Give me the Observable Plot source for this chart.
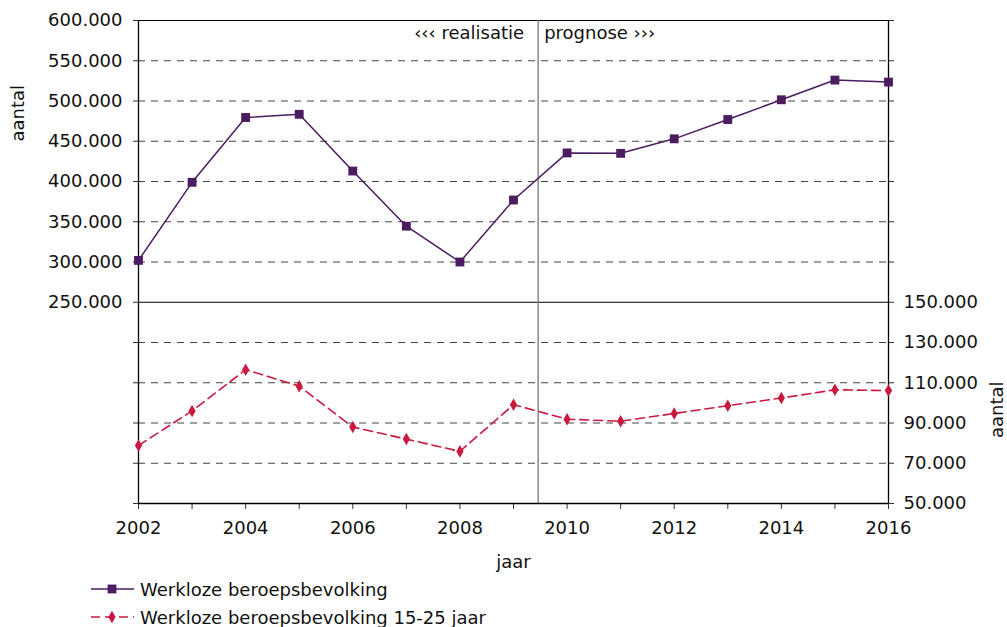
<!DOCTYPE html>
<html><head><meta charset="utf-8">
<script src="https://cdn.jsdelivr.net/npm/d3@7"></script>
<script src="https://cdn.jsdelivr.net/npm/@observablehq/plot@0.6"></script>
<style>
body{margin:0;background:#fff;font-family:"DejaVu Sans",Verdana,sans-serif;}
#legend{padding-left:90px;font-size:18px;color:#111;}
.row{height:28px;display:flex;align-items:center;}
.row svg{margin-right:4px;display:block}
</style></head><body>
<div id="chart"></div>
<div id="legend"></div>
<script>
// ---- data ----
const years = [2002, 2003, 2004, 2005, 2006, 2007, 2008, 2009, 2010, 2011, 2012, 2013, 2014, 2015, 2016];
const totaal = [302000, 399000, 479500, 483500, 413000, 344500, 300000, 377000, 435500, 435000, 453000, 477000, 501500, 526000, 523500];
const jongeren = [78800, 96000, 116500, 108300, 88000, 82000, 75900, 99100, 91900, 90900, 94700, 98600, 102400, 106500, 106100];
const leftTickValues = [250000, 300000, 350000, 400000, 450000, 500000, 550000, 600000];
const rightTickValues = [50000, 70000, 90000, 110000, 130000, 150000];
const seriesNames = ["Werkloze beroepsbevolking", "Werkloze beroepsbevolking 15-25 jaar"];
const splitYear = 2009.46;
const labels = {left: "‹‹‹ realisatie", right: "prognose ›››", y: "aantal", x: "jaar"};

// ---- helpers ----
const purple = "#4b1c5f", red = "#c8193f";
const fmt = d => d3.format(",")(d).replace(/,/g, ".");
// right axis (15-25 jaar) mapped onto the left scale: 50.000 -> 0, 150.000 -> 250.000
const toLeft = v => (v - 50000) * 2.5;
const fromLeft = p => p / 2.5 + 50000;
const allPositions = d3.range(0, 600001, 50000);
const rightPositions = rightTickValues.map(toLeft);

const dataA = years.map((y, i) => ({year: y, v: totaal[i]}));
const dataB = years.map((y, i) => ({year: y, v: toLeft(jongeren[i])}));
const dashedGrid = allPositions.filter(p => p > 0 && p < 600000 && p !== 250000);

const chart = Plot.plot({
  width: 1007, height: 575,
  marginLeft: 138, marginRight: 119, marginTop: 20, marginBottom: 72,
  style: {fontFamily: "DejaVu Sans, Verdana, sans-serif", fontSize: "18px", color: "#111", background: "#fff"},
  x: {domain: [years[0], years[years.length - 1]]},
  y: {domain: [0, 600000]},
  marks: [
    Plot.ruleY(dashedGrid, {stroke: "#444", strokeDasharray: "7,6", strokeWidth: 1}),
    Plot.ruleY([250000, 600000], {stroke: "#000", strokeWidth: 1.2}),
    Plot.ruleX([splitYear], {stroke: "#777", strokeWidth: 1.3}),
    Plot.axisY({anchor: "left", ticks: allPositions, tickSize: 5, tickPadding: 11, stroke: "#333",
      tickFormat: p => leftTickValues.includes(p) ? fmt(p) : "", label: null, fontSize: 18}),
    Plot.axisY({anchor: "right", ticks: allPositions, tickSize: 5, tickPadding: 10, stroke: "#333",
      tickFormat: p => rightPositions.includes(p) ? fmt(fromLeft(p)) : "", label: null, fontSize: 18}),
    Plot.axisX({ticks: years, tickSize: 6, tickPadding: 12, stroke: "#333",
      tickFormat: d => d % 2 === 0 ? String(d) : "", label: null, fontSize: 18}),
    Plot.ruleX([years[0], years[years.length - 1]], {stroke: "#000", strokeWidth: 1.3}),
    Plot.ruleY([0], {stroke: "#000", strokeWidth: 1.3}),
    Plot.text([labels.left], {x: () => splitYear, frameAnchor: "top", text: d => d, textAnchor: "end", dx: -14, dy: 13, lineAnchor: "middle", fill: "#111"}),
    Plot.text([labels.right], {x: () => splitYear, frameAnchor: "top", text: d => d, textAnchor: "start", dx: 6, dy: 13, lineAnchor: "middle", fill: "#111"}),
    Plot.text([labels.y], {frameAnchor: "top-left", text: d => d, rotate: -90, dx: -120, dy: 121, lineAnchor: "middle", fill: "#111"}),
    Plot.text([labels.y], {frameAnchor: "top-right", text: d => d, rotate: -90, dx: 109, dy: 361, lineAnchor: "middle", fill: "#111"}),
    Plot.text([labels.x], {frameAnchor: "bottom", text: d => d, dy: 59, lineAnchor: "middle", fill: "#111"}),
    Plot.line(dataB, {x: "year", y: "v", stroke: red, strokeWidth: 1.6, strokeDasharray: "9,5"}),
    Plot.dot(dataB, {x: "year", y: "v", symbol: "diamond", r: 3.8, fill: red, stroke: "none"}),
    Plot.line(dataA, {x: "year", y: "v", stroke: purple, strokeWidth: 1.5}),
    Plot.dot(dataA, {x: "year", y: "v", symbol: "square", r: 5, fill: purple, stroke: "none"})
  ]
});
document.getElementById("chart").appendChild(chart);

// ---- legend ----
const legend = d3.select("#legend");
const items = [
  {name: seriesNames[0], color: purple, dash: null, sym: d3.symbolSquare, size: 78},
  {name: seriesNames[1], color: red, dash: "9,5", sym: d3.symbolDiamond, size: 45}
];
items.forEach(it => {
  const row = legend.append("div").attr("class", "row");
  const s = row.append("svg").attr("width", 46).attr("height", 14);
  s.append("line").attr("x1", 1).attr("x2", 44).attr("y1", 7).attr("y2", 7)
    .attr("stroke", it.color).attr("stroke-width", 1.6).attr("stroke-dasharray", it.dash);
  s.append("path").attr("d", d3.symbol(it.sym, it.size)()).attr("transform", "translate(22,7)").attr("fill", it.color);
  row.append("span").text(it.name);
});
</script>
</body></html>
